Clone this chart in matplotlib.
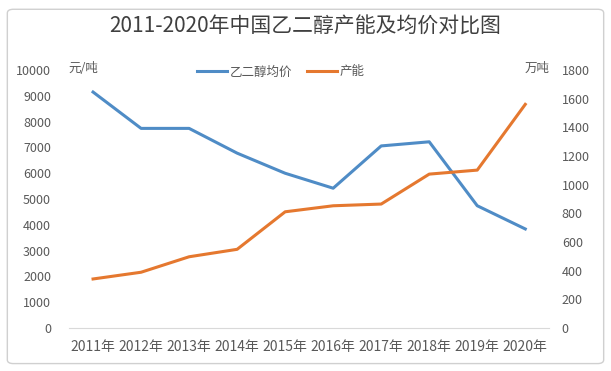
import matplotlib.pyplot as plt
from matplotlib.patches import FancyBboxPatch

plt.rcParams['font.family'] = ['Noto Sans CJK SC', 'DejaVu Sans']

# data
years = ['2011年', '2012年', '2013年', '2014年', '2015年',
         '2016年', '2017年', '2018年', '2019年', '2020年']
price = [9150, 7740, 7740, 6780, 6000, 5420, 7060, 7220, 4740, 3840]   # 元/吨
capacity = [342, 389, 497, 549, 811, 853, 865, 1074, 1102, 1561]      # 万吨

blue = '#4f8cc6'
orange = '#e5782f'
grey = '#595959'

fig = plt.figure(figsize=(6.11, 3.71), dpi=100)
fig.patches.append(FancyBboxPatch((0.012, 0.02), 0.976, 0.955,
                                  boxstyle='round,pad=0,rounding_size=0.01',
                                  transform=fig.transFigure, fill=False,
                                  edgecolor='#d0d0d0', linewidth=1))

ax = fig.add_axes([0.113, 0.116, 0.786, 0.695])
ax2 = ax.twinx()

x = list(range(len(years)))
l1, = ax.plot(x, price, color=blue, lw=2.2, label='乙二醇均价')
l2, = ax2.plot(x, capacity, color=orange, lw=2.2, label='产能')

ax.set_xlim(-0.5, 9.5)
ax.set_ylim(0, 10000)
ax2.set_ylim(0, 1800)
ax.set_yticks(range(0, 10001, 1000))
ax2.set_yticks(range(0, 1801, 200))
ax.set_xticks(x)
ax.set_xticklabels(years)

for a in (ax, ax2):
    for s in a.spines.values():
        s.set_visible(False)
    a.tick_params(length=0, labelsize=9, colors=grey)
ax.spines['bottom'].set_visible(True)
ax.spines['bottom'].set_color('#d9d9d9')
ax.tick_params(axis='y', pad=13)
ax2.tick_params(axis='y', pad=9)
ax.tick_params(axis='x', pad=9, labelsize=10)

fig.text(0.5, 0.928, '2011-2020年中国乙二醇产能及均价对比图', ha='center', va='center',
         fontsize=15, color='#404040')
fig.text(0.112, 0.815, '元/吨', ha='left', va='center', fontsize=9, color=grey)
fig.text(0.9, 0.815, '万吨', ha='right', va='center', fontsize=9, color=grey)

fig.legend(handles=[l1, l2], loc='center', bbox_to_anchor=(0.46, 0.806), ncol=2,
           frameon=False, fontsize=9, handlelength=2.4, handletextpad=0.2,
           columnspacing=1.2, labelcolor=grey)

fig.savefig('out.png', dpi=100)
